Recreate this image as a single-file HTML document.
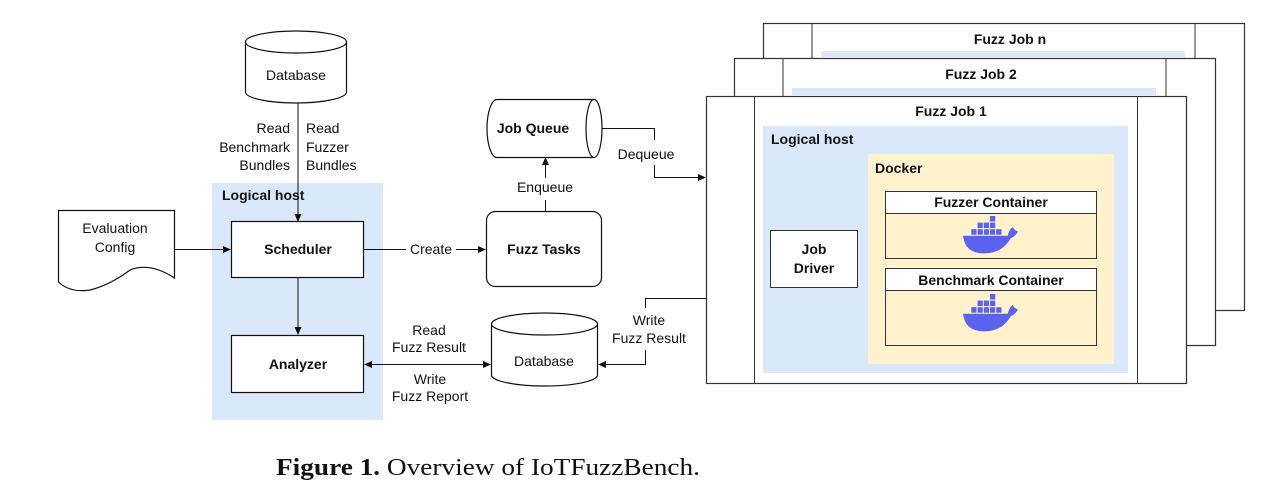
<!DOCTYPE html>
<html><head><meta charset="utf-8"><style>
html,body{margin:0;padding:0;background:#fff;}
svg{display:block;}
text{font-family:"Liberation Sans",Arial,sans-serif;fill:#111;}
.b{font-weight:bold;}
</style></head><body>
<svg width="1273" height="490" viewBox="0 0 1273 490" xmlns="http://www.w3.org/2000/svg">
<defs>
<marker id="ar" markerWidth="8" markerHeight="8" refX="7" refY="4" orient="auto" markerUnits="userSpaceOnUse"><path d="M0,0.5 L8,4 L0,7.5 Z" fill="#111"/></marker>
<marker id="al" markerWidth="8" markerHeight="8" refX="1" refY="4" orient="auto" markerUnits="userSpaceOnUse"><path d="M8,0.5 L0,4 L8,7.5 Z" fill="#111"/></marker>
<g id="whale" fill="#5a63f0">
<rect x="26" y="0" width="5" height="5"/>
<rect x="14" y="6" width="5" height="5"/><rect x="20" y="6" width="5" height="5"/><rect x="26" y="6" width="5" height="5"/>
<rect x="8" y="12" width="5" height="5"/><rect x="14" y="12" width="5" height="5"/><rect x="20" y="12" width="5" height="5"/><rect x="26" y="12" width="5" height="5"/><rect x="32" y="12" width="5" height="5"/>
<path d="M0 18 L43 18 Q45 11 48 10 Q49 13 53 14 Q50 19 46 20 Q38 34 20 34 Q2 34 0 18 Z"/>
</g>
</defs>

<!-- Fuzz Job n -->
<rect x="763.5" y="23.5" width="481" height="287" fill="#fff" stroke="#333" stroke-width="1.2"/>
<line x1="812" y1="23" x2="812" y2="58" stroke="#333"/>
<line x1="1195" y1="23" x2="1195" y2="58" stroke="#333"/>
<rect x="821" y="51" width="364" height="6" fill="#dae8fc"/>
<text x="1010" y="44" class="b" font-size="14" text-anchor="middle">Fuzz Job n</text>
<!-- Fuzz Job 2 -->
<rect x="734.5" y="58.5" width="481" height="287" fill="#fff" stroke="#333" stroke-width="1.2"/>
<line x1="783" y1="58" x2="783" y2="96" stroke="#333"/>
<line x1="1166" y1="58" x2="1166" y2="96" stroke="#333"/>
<rect x="792" y="88" width="364" height="7" fill="#dae8fc"/>
<text x="981" y="79" class="b" font-size="14" text-anchor="middle">Fuzz Job 2</text>
<!-- Fuzz Job 1 -->
<rect x="706.5" y="96.5" width="480" height="287" fill="#fff" stroke="#333" stroke-width="1.2"/>
<line x1="754.5" y1="96" x2="754.5" y2="384" stroke="#333"/>
<line x1="1137.5" y1="96" x2="1137.5" y2="384" stroke="#333"/>
<text x="951" y="116" class="b" font-size="14" text-anchor="middle">Fuzz Job 1</text>
<rect x="763" y="126" width="365" height="247" fill="#dae8fc"/>
<text x="771" y="144" class="b" font-size="14">Logical host</text>
<rect x="868" y="154" width="246" height="210" fill="#fff2cc"/>
<text x="875" y="173" class="b" font-size="14">Docker</text>
<rect x="885.5" y="191.5" width="211" height="67" fill="#fff2cc" stroke="#333"/>
<rect x="885.5" y="191.5" width="211" height="22" fill="#fff" stroke="#333"/>
<text x="991" y="207" class="b" font-size="14" text-anchor="middle">Fuzzer Container</text>
<use href="#whale" transform="translate(963,216) scale(1.04,1.1)"/>
<rect x="885.5" y="268.5" width="211" height="77" fill="#fff2cc" stroke="#333"/>
<rect x="885.5" y="268.5" width="211" height="22" fill="#fff" stroke="#333"/>
<text x="991" y="285" class="b" font-size="14" text-anchor="middle">Benchmark Container</text>
<use href="#whale" transform="translate(963,294) scale(1.04,1.1)"/>
<rect x="770.5" y="230.5" width="87" height="57" fill="#fff" stroke="#333"/>
<text x="814" y="254" class="b" font-size="14" text-anchor="middle">Job</text>
<text x="814" y="273" class="b" font-size="14" text-anchor="middle">Driver</text>

<!-- Left logical host -->
<rect x="212" y="183" width="171" height="237" fill="#dae8fc"/>
<text x="222" y="200" class="b" font-size="14">Logical host</text>

<!-- top database -->
<path d="M245.5 42 L245.5 92 A50.5 11 0 0 0 346.5 92 L346.5 42" fill="#fff" stroke="#111" stroke-width="1.2"/>
<ellipse cx="296" cy="42" rx="50.5" ry="11" fill="#fff" stroke="#111" stroke-width="1.2"/>
<text x="296" y="80" font-size="14" text-anchor="middle">Database</text>
<line x1="298" y1="103" x2="298" y2="221" stroke="#111" marker-end="url(#ar)"/>
<text font-size="14" text-anchor="end"><tspan x="290" y="133">Read</tspan><tspan x="290" y="152">Benchmark</tspan><tspan x="290" y="170">Bundles</tspan></text>
<text font-size="14"><tspan x="306" y="133">Read</tspan><tspan x="306" y="152">Fuzzer</tspan><tspan x="306" y="170">Bundles</tspan></text>

<!-- Evaluation Config -->
<path d="M58.5 210.5 H174.5 V278 Q150 262 130 270 Q110 285 90 290 Q70 293 58.5 282 Z" fill="#fff" stroke="#111" stroke-width="1.2"/>
<text x="115" y="233" font-size="14" text-anchor="middle">Evaluation</text>
<text x="115" y="252" font-size="14" text-anchor="middle">Config</text>
<line x1="174" y1="249.5" x2="230" y2="249.5" stroke="#111" marker-end="url(#ar)"/>

<!-- Scheduler / Analyzer -->
<rect x="231.5" y="221.5" width="132" height="56" fill="#fff" stroke="#111" stroke-width="1.2"/>
<text x="298" y="254" class="b" font-size="14" text-anchor="middle">Scheduler</text>
<line x1="298" y1="278" x2="298" y2="334" stroke="#111" marker-end="url(#ar)"/>
<rect x="231.5" y="335.5" width="132" height="57" fill="#fff" stroke="#111" stroke-width="1.2"/>
<text x="298" y="369" class="b" font-size="14" text-anchor="middle">Analyzer</text>

<!-- Create -->
<line x1="364" y1="249.5" x2="406" y2="249.5" stroke="#111"/>
<text x="431" y="254" font-size="14" text-anchor="middle">Create</text>
<line x1="456" y1="249.5" x2="485" y2="249.5" stroke="#111" marker-end="url(#ar)"/>
<rect x="486.5" y="211.5" width="115" height="75" rx="9" fill="#fff" stroke="#111" stroke-width="1.2"/>
<text x="544" y="254" class="b" font-size="14" text-anchor="middle">Fuzz Tasks</text>

<!-- Enqueue -->
<line x1="545.5" y1="211" x2="545.5" y2="200" stroke="#111"/>
<text x="545" y="192" font-size="14" text-anchor="middle">Enqueue</text>
<line x1="545.5" y1="178" x2="545.5" y2="158" stroke="#111" marker-end="url(#ar)"/>

<!-- Job Queue -->
<path d="M594 99.5 H497 A10 29 0 0 0 497 157.5 H594" fill="#fff" stroke="#111" stroke-width="1.2"/>
<ellipse cx="594" cy="128.5" rx="8" ry="29" fill="#fff" stroke="#111" stroke-width="1.2"/>
<text x="533" y="133" class="b" font-size="14" text-anchor="middle">Job Queue</text>

<!-- Dequeue -->
<polyline points="602,128.5 654.5,128.5 654.5,140" fill="none" stroke="#111"/>
<text x="646" y="159" font-size="14" text-anchor="middle">Dequeue</text>
<polyline points="654.5,165 654.5,177.5 705,177.5" fill="none" stroke="#111" marker-end="url(#ar)"/>

<!-- bottom Database -->
<path d="M491.5 324 L491.5 375 A53 11 0 0 0 597.5 375 L597.5 324" fill="#fff" stroke="#111" stroke-width="1.2"/>
<ellipse cx="544.5" cy="324" rx="53" ry="11" fill="#fff" stroke="#111" stroke-width="1.2"/>
<text x="544" y="366" font-size="14" text-anchor="middle">Database</text>

<!-- Read/Write -->
<line x1="365" y1="364.5" x2="490" y2="364.5" stroke="#111" marker-start="url(#al)" marker-end="url(#ar)"/>
<text x="429" y="335" font-size="14" text-anchor="middle">Read</text>
<text x="429" y="352" font-size="14" text-anchor="middle">Fuzz Result</text>
<text x="430" y="384" font-size="14" text-anchor="middle">Write</text>
<text x="430" y="401" font-size="14" text-anchor="middle">Fuzz Report</text>

<!-- Write Fuzz Result -->
<polyline points="706,298.5 645.5,298.5 645.5,308" fill="none" stroke="#111"/>
<text x="649" y="325" font-size="14" text-anchor="middle">Write</text>
<text x="649" y="343" font-size="14" text-anchor="middle">Fuzz Result</text>
<polyline points="645.5,350 645.5,364.5 599,364.5" fill="none" stroke="#111" marker-end="url(#ar)"/>

<!-- caption -->
<text x="276" y="475" font-size="24" textLength="424" lengthAdjust="spacingAndGlyphs" style="font-family:'Liberation Serif',serif"><tspan font-weight="bold">Figure 1.</tspan> Overview of IoTFuzzBench.</text>
</svg>
</body></html>
